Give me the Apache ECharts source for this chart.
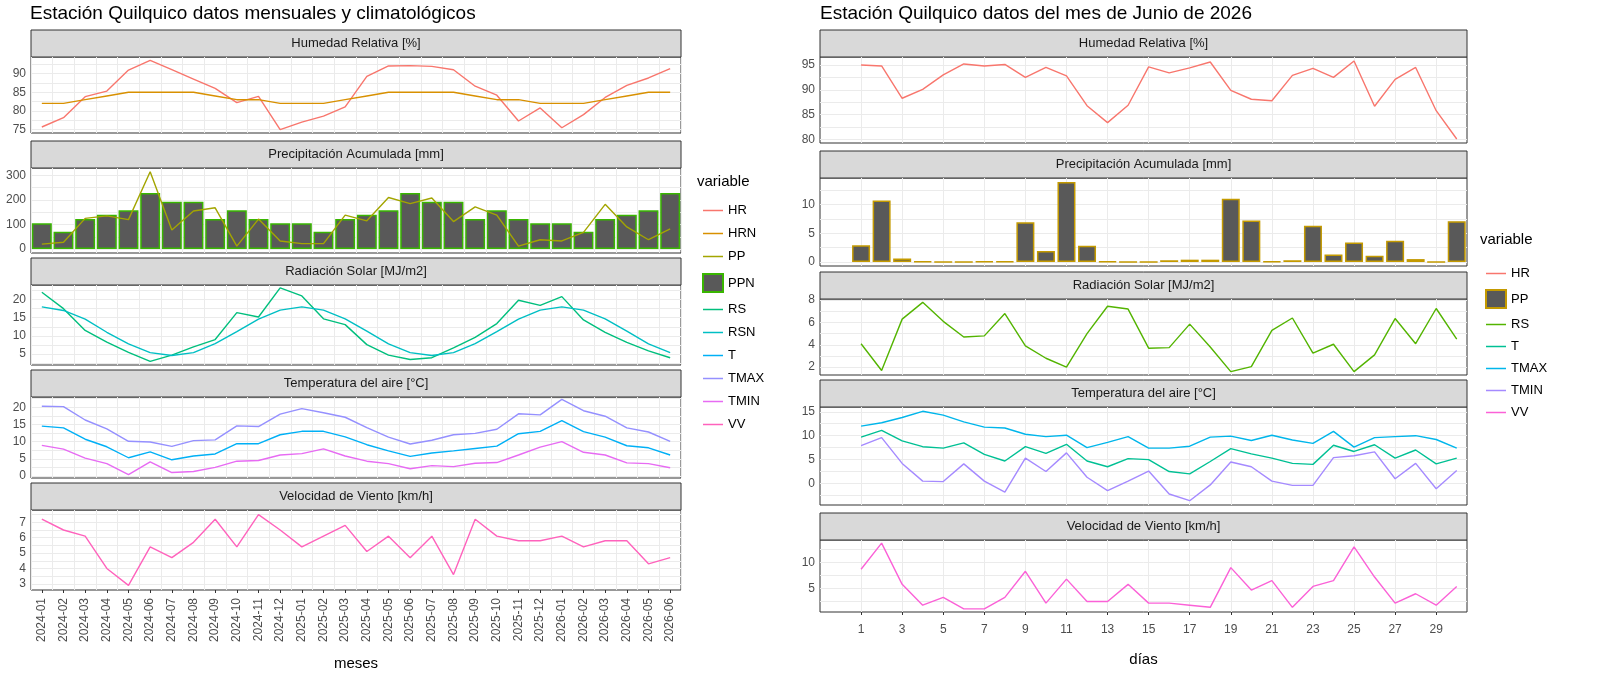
<!DOCTYPE html>
<html><head><meta charset="utf-8">
<script src="https://cdn.jsdelivr.net/npm/echarts@6/dist/echarts.min.js"></script>
<style>body{margin:0;background:#fff}#L{position:absolute;left:0;top:0;width:780px;height:676px}#R{position:absolute;left:780px;top:0;width:820px;height:676px}</style>
</head><body><div id="L"></div><div id="R"></div>
<script>
// ---- Left (monthly) data ----
const meses = ["2024-01","2024-02","2024-03","2024-04","2024-05","2024-06","2024-07","2024-08","2024-09","2024-10","2024-11","2024-12","2025-01","2025-02","2025-03","2025-04","2025-05","2025-06","2025-07","2025-08","2025-09","2025-10","2025-11","2025-12","2026-01","2026-02","2026-03","2026-04","2026-05","2026-06"];
const HR_m  = [75.7,78.2,83.8,85.3,90.9,93.5,91,88.5,86,82.2,83.9,75,77,78.6,81.1,89.2,92,92.1,91.9,91,86.6,84.2,77.3,80.8,75.5,79,83.6,86.8,88.8,91.3];
const HRN_m = [82,82,83,84,85,85,85,85,84,83,83,82,82,82,83,84,85,85,85,85,84,83,83,82,82,82,83,84,85,85];
const PPN_m = [105,70,122,140,158,228,193,193,122,158,122,105,105,70,122,140,158,228,193,193,122,158,122,105,105,70,122,140,158,228];
const PP_m  = [20,28,125,135,120,315,78,155,168,12,122,33,22,22,138,115,210,185,208,112,172,138,12,38,33,68,182,90,38,82];
const RS_m  = [22,17.5,11.5,8.3,5.5,3,4.7,7,9,16.4,15.2,23.2,21,14.7,13.1,7.6,4.7,3.5,4,6.7,9.6,13.4,19.8,18.4,20.8,14.4,11,8.2,5.9,4];
const RSN_m = [18,17,14.6,11,7.8,5.4,4.6,5.4,7.9,11.2,14.6,17.1,18,17.1,14.7,11.3,7.8,5.4,4.6,5.4,7.9,11.2,14.6,17.1,18,17.1,14.7,11.3,7.8,5.4];
const TMAX_m= [20.3,20.2,16.3,13.7,10.1,9.9,8.6,10.3,10.5,14.6,14.4,18,19.6,18.4,17.1,14.1,11.3,9.3,10.4,12,12.4,13.6,18.1,17.8,22.3,19,17.4,14,12.8,10.1];
const T_m   = [14.5,14,10.7,8.5,5.3,7,4.7,5.8,6.4,9.4,9.4,12,13,13,11.4,9.1,7.3,5.7,6.7,7.3,8,8.7,12.3,13,16.1,12.9,11.3,8.8,8.2,6.1];
const TMIN_m= [8.9,7.8,5.2,3.6,0.4,4.1,1,1.3,2.5,4.3,4.5,6.1,6.5,7.9,5.8,4.3,3.6,2.1,3,2.7,3.7,3.9,6.1,8.4,10,6.9,6.1,3.8,3.6,2.4];
const VV_m  = [7.2,6.5,6.1,4,2.9,5.4,4.7,5.7,7.2,5.4,7.5,6.5,5.4,6.1,6.8,5.1,6.1,4.7,6.1,3.6,7.2,6.1,5.8,5.8,6.1,5.4,5.8,5.8,4.3,4.7];
// ---- Right (daily) data ----
const dias = Array.from({length:30},(_, i)=>i+1);
const HR_d  = [95,94.8,88.3,90.1,93,95.2,94.8,95.1,92.5,94.5,92.8,86.8,83.4,86.9,94.6,93.4,94.4,95.6,89.9,88.1,87.8,92.9,94.3,92.5,95.8,86.7,92.1,94.5,85.8,80.1];
const PP_d  = [2.9,10.7,0.6,0.1,0,0,0.1,0.1,6.9,1.9,13.9,2.8,0.1,0,0,0.3,0.4,0.4,11,7.2,0.1,0.3,6.3,1.3,3.4,1.1,3.7,0.5,0,7.1];
const RS_d  = [4.1,1.7,6.3,7.8,6.1,4.7,4.8,6.8,3.9,2.8,2,5,7.45,7.2,3.7,3.75,5.85,3.8,1.6,2.05,5.3,6.4,3.25,4.05,1.6,3.1,6.35,4.1,7.25,4.5];
const TMAX_d= [12,12.7,13.8,15.1,14.3,12.9,11.8,11.6,10.3,9.8,10.1,7.5,8.6,9.8,7.4,7.4,7.8,9.7,9.9,9,10.1,9.1,8.4,10.9,7.6,9.6,9.8,10,9.2,7.4];
const T_d   = [9.7,11.1,8.9,7.7,7.4,8.5,6.1,4.7,7.7,6.3,8.2,4.7,3.5,5.2,5,2.5,2,4.6,7.3,6.2,5.3,4.2,4,8,6.7,8.1,5.3,7,4.1,5.3];
const TMIN_d= [7.9,9.6,4.2,0.5,0.4,4.1,0.5,-1.8,5.3,2.5,6.4,1.3,-1.5,0.5,2.6,-2.2,-3.6,-0.3,4.5,3.5,0.5,-0.4,-0.4,5.4,5.8,6.6,1,4.2,-1.1,2.7];
const VV_d  = [8.7,13.7,5.8,1.8,3.3,1.1,1.1,3.3,8.3,2.2,6.8,2.5,2.5,5.8,2.2,2.2,1.8,1.4,9,4.7,6.5,1.4,5.4,6.5,13,7.2,2.2,4,1.8,5.4];

const FONT = "Liberation Sans";
const strips = ["Humedad Relativa [%]","Precipitación Acumulada [mm]","Radiación Solar [MJ/m2]","Temperatura del aire [°C]","Velocidad de Viento [km/h]"];

function build(cfg){
  const grids=[],xs=[],ys=[],graphic=[];
  graphic.push({type:'text',left:cfg.titleX,top:4,style:{text:cfg.title,font:'19px '+FONT,fill:'#000'}});
  graphic.push({type:'text',left:cfg.legX,top:cfg.legTitleY,style:{text:'variable',font:'15px '+FONT,fill:'#000'}});
  cfg.panels.forEach((p,i)=>{
    grids.push({left:cfg.left,width:cfg.width,top:p.top,height:p.h,show:true,borderColor:'#333',borderWidth:1,backgroundColor:'#fff'});
    graphic.push({type:'rect',shape:{x:cfg.left,y:p.top-27,width:cfg.width,height:27},style:{fill:'#D9D9D9',stroke:'#333',lineWidth:1}});
    graphic.push({type:'text',x:cfg.left+cfg.width/2,y:p.top-13.5,style:{text:strips[i],font:'13px '+FONT,fill:'#1A1A1A',align:'center',verticalAlign:'middle'}});
    const last=i===cfg.panels.length-1;
    const x=cfg.xAxis(i,last); x.gridIndex=i; xs.push(x);
    const minors=[];for(let v=p.ticks[0]-p.step/2; v<=p.max; v+=p.step/2){ if(v>=p.min) minors.push(+v.toFixed(3)); }
    ys.push({type:'value',gridIndex:i,min:p.min,max:p.max,
      axisLine:{show:false},axisTick:{show:false,customValues:minors},
      axisLabel:{customValues:p.ticks,color:'#4D4D4D',fontSize:12,fontFamily:FONT,margin:5},
      splitLine:{show:true,lineStyle:{color:'#EBEBEB',width:1}}});
  });
  return {animation:false,grid:grids,xAxis:xs,yAxis:ys,graphic,series:cfg.series,
    legend:{orient:'vertical',left:cfg.legX,top:cfg.legTop,itemGap:cfg.legGap,itemWidth:20,itemHeight:18,
      textStyle:{fontFamily:FONT,fontSize:13,color:'#000'},data:cfg.legend,selectedMode:false}};
}
function line(name,data,color,gi){return {type:'line',name,data,xAxisIndex:gi,yAxisIndex:gi,symbol:'none',lineStyle:{color,width:1.4},itemStyle:{color},z:3};}
const lineIcon='path://M0,9L20,9L20,10.5L0,10.5Z';
function legItem(name,bar){return bar?{name,icon:'rect'}:{name,icon:lineIcon};}

// LEFT
const catX=(i,last)=>({type:'category',data:meses,boundaryGap:true,axisLine:{show:false},
  axisTick:{show:last,alignWithLabel:true,length:3,lineStyle:{color:'#333'},interval:0},
  splitLine:{show:true,interval:0,lineStyle:{color:'#EBEBEB'}},
  axisLabel:{show:last,rotate:90,interval:0,color:'#4D4D4D',fontSize:12,fontFamily:FONT},
  name:last?'meses':'',nameLocation:'middle',nameGap:66,nameTextStyle:{fontSize:15,fontFamily:FONT,color:'#000'}});
const cL={
  HR:'#F8766D',HRN:'#D89000',PP:'#A3A500',PPN:'#39B600',RS:'#00BF7D',RSN:'#00BFC4',T:'#00B0F6',TMAX:'#9590FF',TMIN:'#E76BF3',VV:'#FF62BC'};
const optL=build({title:'Estación Quilquico datos mensuales y climatológicos',titleX:30,left:31,width:650,
  legX:697,legTitleY:174,legTop:199,legGap:10,
  panels:[{top:57,h:76,min:74.1,max:94.4,ticks:[75,80,85,90],step:5},
          {top:168,h:85,min:-16,max:330,ticks:[0,100,200,300],step:100},
          {top:285,h:80,min:2,max:24,ticks:[5,10,15,20],step:5},
          {top:397,h:81,min:-0.6,max:23,ticks:[0,5,10,15,20],step:5},
          {top:510,h:80,min:2.6,max:7.8,ticks:[3,4,5,6,7],step:1}],
  xAxis:catX,
  series:[line('HR',HR_m,cL.HR,0),line('HRN',HRN_m,cL.HRN,0),
    {type:'bar',name:'PPN',data:PPN_m,xAxisIndex:1,yAxisIndex:1,barCategoryGap:'8%',itemStyle:{color:'#595959',borderColor:cL.PPN,borderWidth:1.5}},
    line('PP',PP_m,cL.PP,1),
    line('RS',RS_m,cL.RS,2),line('RSN',RSN_m,cL.RSN,2),
    line('T',T_m,cL.T,3),line('TMAX',TMAX_m,cL.TMAX,3),line('TMIN',TMIN_m,cL.TMIN,3),
    line('VV',VV_m,cL.VV,4)],
  legend:['HR','HRN','PP','PPN','RS','RSN','T','TMAX','TMIN','VV'].map(n=>legItem(n,n==='PPN'))});
echarts.init(document.getElementById('L')).setOption(optL);

// RIGHT
const oddDays=[1,3,5,7,9,11,13,15,17,19,21,23,25,27,29];
const valX=(i,last)=>({type:'value',min:-1,max:30.5,interval:1,axisLine:{show:false},
  axisTick:{show:last,length:3,lineStyle:{color:'#333'},customValues:oddDays},
  splitLine:{show:true,lineStyle:{color:'#EBEBEB'}},
  axisLabel:{show:last,color:'#4D4D4D',fontSize:12,fontFamily:FONT,margin:12,customValues:oddDays},
  name:last?'días':'',nameLocation:'middle',nameGap:40,nameTextStyle:{fontSize:15,fontFamily:FONT,color:'#000'}});
const cR={HR:'#F8766D',PP:'#C49A00',RS:'#53B400',T:'#00C094',TMAX:'#00B6EB',TMIN:'#A58AFF',VV:'#FB61D7'};
const pr=a=>a.map((v,i)=>[dias[i],v]);
const optR=build({title:'Estación Quilquico datos del mes de Junio de 2026',titleX:40,left:40,width:647,
  legX:700,legTitleY:232,legTop:262,legGap:9,
  panels:[{top:57,h:86,min:79.3,max:96.6,ticks:[80,85,90,95],step:5},
          {top:178,h:88,min:-0.7,max:14.6,ticks:[0,5,10],step:5},
          {top:299,h:76,min:1.3,max:8.1,ticks:[2,4,6,8],step:2},
          {top:407,h:98,min:-4.5,max:16,ticks:[0,5,10,15],step:5},
          {top:540,h:72,min:0.5,max:14.3,ticks:[5,10],step:5}],
  xAxis:valX,
  series:[line('HR',pr(HR_d),cR.HR,0),
    {type:'bar',name:'PP',data:pr(PP_d),xAxisIndex:1,yAxisIndex:1,barWidth:18,itemStyle:{color:'#595959',borderColor:cR.PP,borderWidth:1.5}},
    line('RS',pr(RS_d),cR.RS,2),
    line('T',pr(T_d),cR.T,3),line('TMAX',pr(TMAX_d),cR.TMAX,3),line('TMIN',pr(TMIN_d),cR.TMIN,3),
    line('VV',pr(VV_d),cR.VV,4)],
  legend:['HR','PP','RS','T','TMAX','TMIN','VV'].map(n=>legItem(n,n==='PP'))});
echarts.init(document.getElementById('R')).setOption(optR);
</script></body></html>
